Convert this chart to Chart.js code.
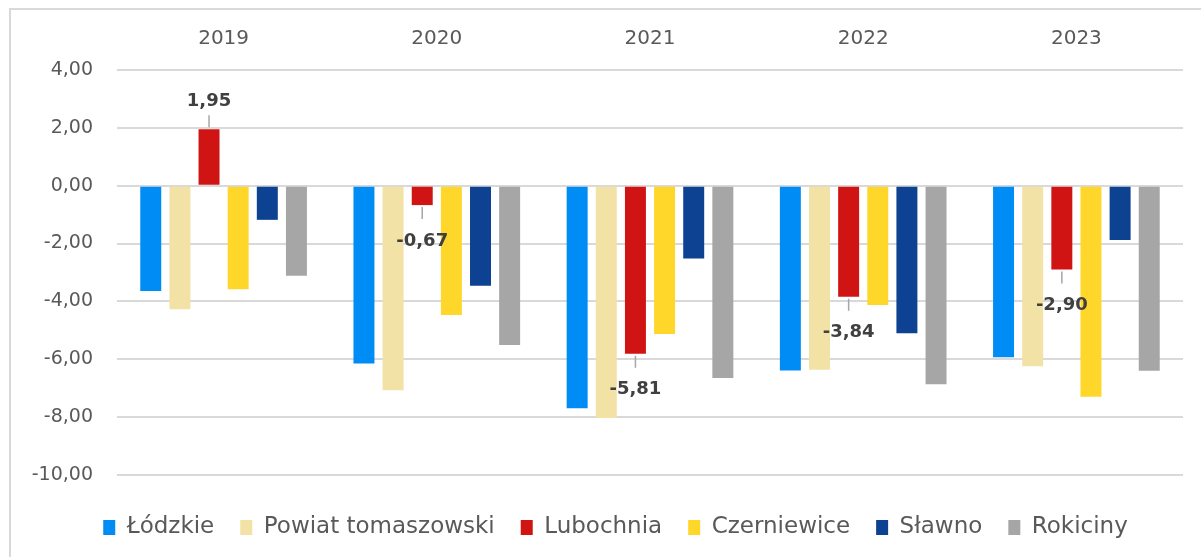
<!DOCTYPE html>
<html>
<head>
<meta charset="utf-8">
<script src="https://cdn.jsdelivr.net/npm/chart.js@4/dist/chart.umd.min.js"></script>
<style>
  html, body { margin: 0; padding: 0; background: #fff; }
  #wrap { position: relative; width: 1201px; height: 557px; }
</style>
</head>
<body>
<div id="wrap"><canvas id="chart" width="1201" height="557"></canvas></div>
<script>
// lata (kategorie)
const years = ['2019', '2020', '2021', '2022', '2023'];

// wartości
const lodzkie     = [-3.64, -6.15, -7.69, -6.39, -5.93];
const powiat      = [-4.27, -7.07, -8.03, -6.36, -6.24];
const lubochnia   = [1.95, -0.67, -5.81, -3.84, -2.90];
const czerniewice = [-3.58, -4.47, -5.13, -4.12, -7.30];
const slawno      = [-1.18, -3.46, -2.52, -5.10, -1.88];
const rokiciny    = [-3.11, -5.51, -6.65, -6.86, -6.40];

const yTicks = [4, 2, 0, -2, -4, -6, -8, -10];

const fmt = v => v.toFixed(2).replace('.', ',');

// ramka wykresu (tylko góra i lewa strona są widoczne)
const frame = {
  id: 'frame',
  afterLayout(chart) {
    // oś Y węższa w układzie (legenda przesunięta w prawo), ale etykiety nie mogą być obcięte
    chart.scales.y.left = 12;
  },
  beforeDraw(chart) {
    const ctx = chart.ctx;
    ctx.save();
    ctx.strokeStyle = '#d9d9d9';
    ctx.lineWidth = 2;
    ctx.beginPath();
    ctx.moveTo(10, 557);
    ctx.lineTo(10, 9);
    ctx.lineTo(1201, 9);
    ctx.stroke();
    ctx.restore();
  }
};

// etykiety danych dla Lubochni z linią odniesienia
const lubLabels = {
  id: 'lubLabels',
  afterDatasetsDraw(chart) {
    const ctx = chart.ctx;
    const meta = chart.getDatasetMeta(2);
    ctx.save();
    ctx.font = 'bold 18px "DejaVu Sans"';
    ctx.textAlign = 'center';
    ctx.textBaseline = 'middle';
    meta.data.forEach((bar, i) => {
      const v = lubochnia[i];
      const dir = v >= 0 ? -1 : 1;
      ctx.strokeStyle = '#a6a6a6';
      ctx.lineWidth = 1.5;
      ctx.beginPath();
      ctx.moveTo(bar.x, bar.y + dir * 2);
      ctx.lineTo(bar.x, bar.y + dir * 14);
      ctx.stroke();
      ctx.fillStyle = '#404040';
      ctx.fillText(fmt(v), bar.x, bar.y + (v >= 0 ? -28 : 36));
    });
    ctx.restore();
  }
};

Chart.defaults.font.family = '"DejaVu Sans"';
Chart.defaults.color = '#595959';

const ctx = document.getElementById('chart').getContext('2d');
const chart = new Chart(ctx, {
  type: 'bar',
  data: {
    labels: years,
    datasets: [
      { label: 'Łódzkie', data: lodzkie, backgroundColor: '#008cf5' },
      { label: 'Powiat tomaszowski', data: powiat, backgroundColor: '#f3e2a6' },
      { label: 'Lubochnia', data: lubochnia, backgroundColor: '#d01414' },
      { label: 'Czerniewice', data: czerniewice, backgroundColor: '#ffd72b' },
      { label: 'Sławno', data: slawno, backgroundColor: '#0d4191' },
      { label: 'Rokiciny', data: rokiciny, backgroundColor: '#a6a6a6' }
    ]
  },
  options: {
    responsive: false,
    animation: false,
    categoryPercentage: 0.82,
    barPercentage: 0.72,
    layout: { padding: { left: 48, right: 18, top: 12, bottom: 8 } },
    plugins: {
      tooltip: { enabled: false },
      legend: {
        position: 'bottom',
        labels: {
          boxWidth: 12,
          boxHeight: 15,
          padding: 26,
          color: '#595959',
          font: { size: 23 }
        }
      }
    },
    scales: {
      x: {
        position: 'top',
        grid: { display: false, drawTicks: false },
        border: { display: false },
        ticks: { color: '#595959', font: { size: 20 }, padding: 19 },
        afterFit: s => { s.height = 70 - 12; }
      },
      y: {
        min: -10.52,
        max: 4,
        ticks: {
          stepSize: 2,
          padding: 24,
          color: '#595959',
          font: { size: 19 },
          callback: v => fmt(v)
        },
        afterBuildTicks: s => {
          s.ticks = yTicks.map(v => ({ value: v }));
        },
        grid: { color: '#d9d9d9', lineWidth: 2, drawTicks: false },
        border: { display: false },
        afterFit: s => { s.width = 117 - 48; }
      }
    }
  },
  plugins: [frame, lubLabels]
});
</script>
</body>
</html>
